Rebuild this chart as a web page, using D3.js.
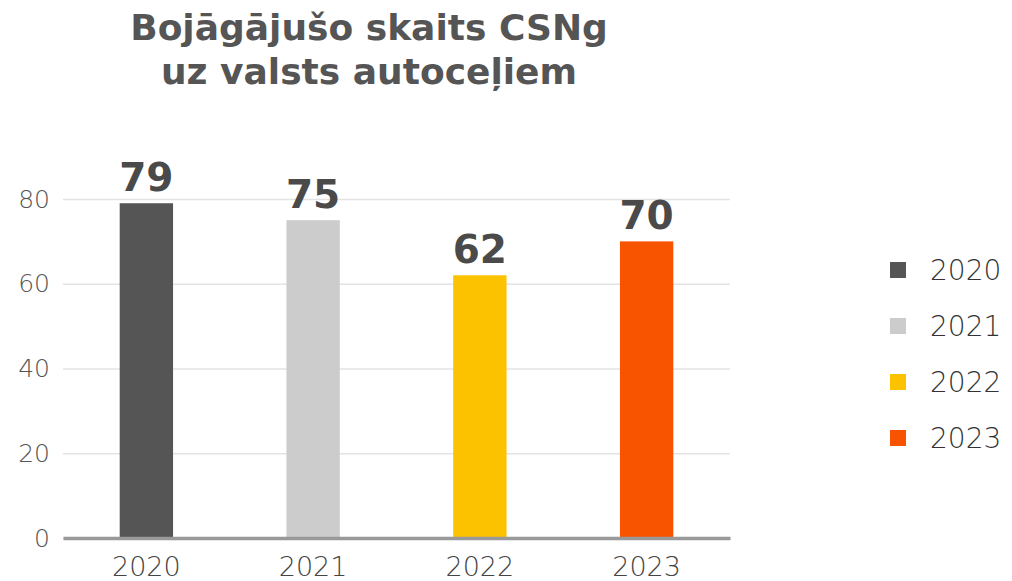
<!DOCTYPE html>
<html><head><meta charset="utf-8">
<script src="https://cdn.jsdelivr.net/npm/d3@7"></script>
<style>body{margin:0;background:#fff}svg{display:block}</style>
</head><body>
<script>
const categories = ["2020","2021","2022","2023"];
const values = [79,75,62,70];
const colors = ["#555555","#cccccc","#fcc200","#f85400"];
const yTicks = [0,20,40,60,80];
const titleLines = ["Bojāgājušo skaits CSNg","uz valsts autoceļiem"];

const W=1012,H=581;
const svg=d3.select("body").append("svg").attr("width",W).attr("height",H);
const font="'DejaVu Sans', sans-serif";
const x=d3.scaleBand().domain(categories).range([63,730]).paddingInner(0.68).paddingOuter(0.34);
const y=d3.scaleLinear().domain([0,80]).range([538,199]);

svg.append("g").selectAll("text").data(titleLines).join("text")
 .attr("x",369).attr("y",(d,i)=>40+i*44).attr("text-anchor","middle")
 .attr("font-family",font).attr("font-weight",700).attr("font-size",36).attr("fill","#555")
 .text(d=>d);

const yAxis=svg.append("g").attr("transform","translate(63,0)")
 .call(d3.axisLeft(y).tickValues(yTicks).tickSize(-667).tickPadding(13));
yAxis.select(".domain").remove();
yAxis.selectAll(".tick line").attr("stroke","#e3e3e3").attr("stroke-width",1.5);
yAxis.selectAll(".tick text").attr("font-family",font).attr("font-weight",200).attr("font-size",25).attr("fill","#555");

svg.append("g").selectAll("rect").data(values).join("rect")
 .attr("x",(d,i)=>x(categories[i])).attr("width",x.bandwidth())
 .attr("y",d=>y(d)).attr("height",d=>y(0)-y(d)).attr("fill",(d,i)=>colors[i]);

const xAxis=svg.append("g").attr("transform","translate(0,538)")
 .call(d3.axisBottom(x).tickSize(0).tickPadding(19));
xAxis.select(".domain").attr("stroke","#999").attr("stroke-width",3.5);
xAxis.selectAll(".tick text").attr("font-family",font).attr("font-weight",200).attr("font-size",27).attr("fill","#444");

svg.append("g").selectAll("text").data(values).join("text")
 .attr("x",(d,i)=>x(categories[i])+x.bandwidth()/2).attr("y",d=>y(d)-12)
 .attr("text-anchor","middle").attr("font-family",font).attr("font-weight",700)
 .attr("font-size",39).attr("fill","#4a4a4a").text(d=>d);

const lg=svg.append("g").selectAll("g").data(categories).join("g")
 .attr("transform",(d,i)=>`translate(890,${270+i*56})`);
lg.append("rect").attr("x",0).attr("y",-8).attr("width",16).attr("height",16).attr("fill",(d,i)=>colors[i]);
lg.append("text").attr("x",40).attr("y",0).attr("dy","0.36em").attr("font-family",font).attr("font-weight",200)
 .attr("font-size",28).attr("fill","#333").text(d=>d);
</script>
</body></html>
